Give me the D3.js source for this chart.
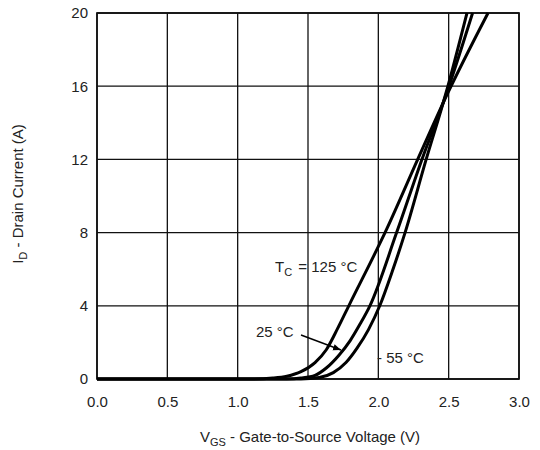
<!DOCTYPE html>
<html>
<head>
<meta charset="utf-8">
<script src="https://cdn.jsdelivr.net/npm/d3@7"></script>
<style>
  body { margin: 0; background: #fff; }
  text { font-family: "Liberation Sans", Arial, sans-serif; fill: #222; }
</style>
</head>
<body>
<svg id="chart" width="540" height="450"></svg>
<script>
// transfer characteristics
var xTicks = [0.0, 0.5, 1.0, 1.5, 2.0, 2.5, 3.0];
var yTicks = [0, 4, 8, 12, 16, 20];

var vgs125 = [0, 1.1, 1.25, 1.35, 1.45, 1.55, 1.63, 1.71, 1.79, 2.06, 2.28, 2.48, 2.78];
var id125  = [0, 0, 0.05, 0.15, 0.4, 0.9, 1.6, 2.75, 4, 8.2, 12, 15.4, 20];

var vgs25 = [0, 1.35, 1.45, 1.55, 1.63, 1.72, 1.8, 1.87, 1.94, 2.13, 2.31, 2.48, 2.67];
var id25  = [0, 0, 0.05, 0.2, 0.6, 1.3, 2.1, 3.0, 4, 8, 12, 15.5, 20];

var vgs55 = [0, 1.45, 1.58, 1.68, 1.77, 1.85, 1.93, 2.01, 2.1, 2.19, 2.34, 2.48, 2.63];
var id55  = [0, 0, 0.08, 0.35, 0.9, 1.7, 2.7, 4, 5.9, 8, 12, 15.6, 20];

var svg = d3.select("#chart"),
    pLeft = 97, pRight = 519, pTop = 13, pBottom = 379,
    fs = 15;

var x = d3.scaleLinear().domain([0, 3]).range([pLeft, pRight]);
var y = d3.scaleLinear().domain([0, 20]).range([pBottom, pTop]);

// grid
svg.append("g").selectAll("line").data(xTicks).enter().append("line")
    .attr("x1", function(d) { return x(d); }).attr("x2", function(d) { return x(d); })
    .attr("y1", pTop).attr("y2", pBottom)
    .attr("stroke", "#111").attr("stroke-width", 1.3);
svg.append("g").selectAll("line").data(yTicks).enter().append("line")
    .attr("x1", pLeft).attr("x2", pRight)
    .attr("y1", function(d) { return y(d); }).attr("y2", function(d) { return y(d); })
    .attr("stroke", "#111").attr("stroke-width", 1.3);

svg.append("rect")
    .attr("x", pLeft).attr("y", pTop)
    .attr("width", pRight - pLeft).attr("height", pBottom - pTop)
    .attr("fill", "none").attr("stroke", "#111").attr("stroke-width", 1.7);

// axes (labels only)
var xAxis = d3.axisBottom(x).tickValues(xTicks).tickFormat(d3.format(".1f")).tickSize(0).tickPadding(17);
var yAxis = d3.axisLeft(y).tickValues(yTicks).tickFormat(d3.format("d")).tickSize(0).tickPadding(9);

var gx = svg.append("g").attr("transform", "translate(0," + pBottom + ")").call(xAxis);
var gy = svg.append("g").attr("transform", "translate(" + pLeft + ",0)").call(yAxis);
[gx, gy].forEach(function(g) {
    g.select(".domain").remove();
    g.selectAll("text").attr("font-size", fs).style("font-family", '"Liberation Sans", Arial, sans-serif').attr("fill", "#222");
});

// curves
var line = d3.line()
    .x(function(d) { return x(d[0]); })
    .y(function(d) { return y(d[1]); })
    .curve(d3.curveMonotoneX);

[[vgs125, id125], [vgs25, id25], [vgs55, id55]].forEach(function(s) {
    var pts = d3.zip(s[0], s[1]);
    svg.append("path")
        .attr("d", line(pts))
        .attr("fill", "none")
        .attr("stroke", "#000")
        .attr("stroke-width", 3);
});

// labels
var t = svg.append("text").attr("x", 275).attr("y", 272).attr("font-size", fs);
t.append("tspan").text("T");
t.append("tspan").attr("font-size", 11).attr("dy", 4).text("C");
t.append("tspan").attr("dy", -4).attr("dx", 2).text(" = 125 °C");

svg.append("text").attr("x", 256).attr("y", 337).attr("font-size", fs).text("25 °C");
svg.append("text").attr("x", 377).attr("y", 363).attr("font-size", fs).text("- 55 °C");

svg.append("defs").append("marker")
    .attr("id", "arr").attr("viewBox", "0 0 10 10")
    .attr("refX", 10).attr("refY", 5)
    .attr("markerWidth", 8).attr("markerHeight", 8)
    .attr("markerUnits", "userSpaceOnUse")
    .attr("orient", "auto")
    .append("path").attr("d", "M0,1 L10,5 L0,9 z").attr("fill", "#000");

svg.append("line")
    .attr("x1", 301).attr("y1", 335).attr("x2", 341).attr("y2", 350)
    .attr("stroke", "#000").attr("stroke-width", 1.4)
    .attr("marker-end", "url(#arr)");

// axis titles
var xt = svg.append("text").attr("x", 310).attr("y", 442).attr("text-anchor", "middle").attr("font-size", fs);
xt.append("tspan").text("V");
xt.append("tspan").attr("font-size", 11).attr("dy", 4).text("GS");
xt.append("tspan").attr("dy", -4).text(" - Gate-to-Source Voltage (V)");

var yt = svg.append("text")
    .attr("transform", "translate(23,194) rotate(-90)")
    .attr("text-anchor", "middle").attr("font-size", fs);
yt.append("tspan").text("I");
yt.append("tspan").attr("font-size", 11).attr("dy", 4).text("D");
yt.append("tspan").attr("dy", -4).text(" - Drain Current (A)");
</script>
</body>
</html>
